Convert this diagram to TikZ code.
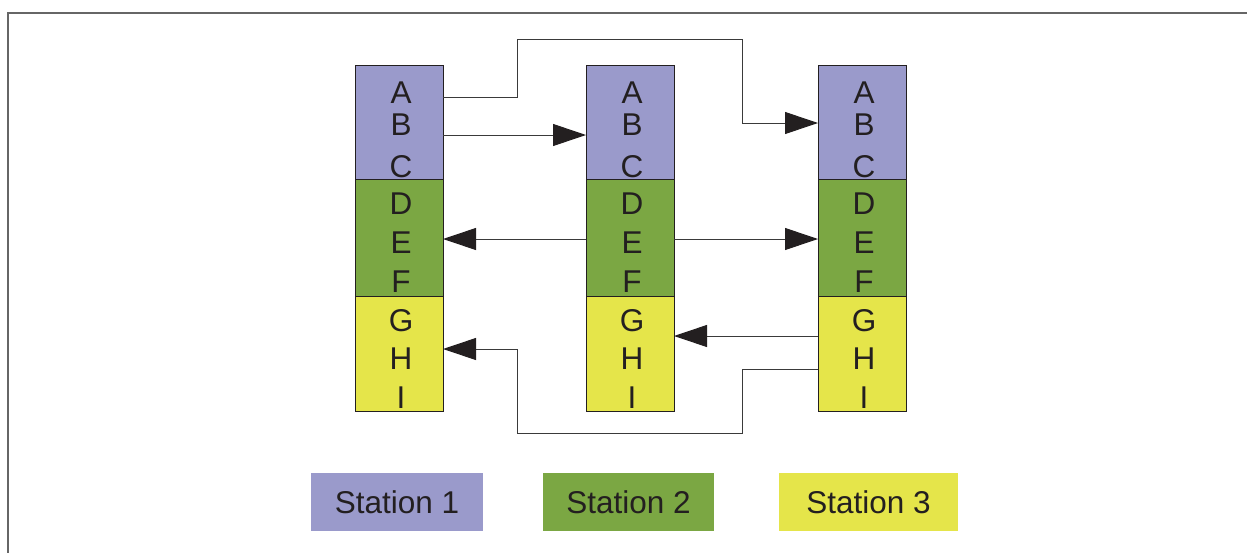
\documentclass[tikz,border=0pt]{standalone}
\usepackage{fontspec}
\setmainfont{Liberation Sans}
\usetikzlibrary{arrows.meta}
\definecolor{sblue}{HTML}{9A9ACB}
\definecolor{sgreen}{HTML}{7BA743}
\definecolor{syellow}{HTML}{E5E54A}
\definecolor{ink}{HTML}{231F20}
\definecolor{lncol}{HTML}{3A3A3A}
\tikzset{
  sec/.style={draw=ink, line width=0.9pt, minimum width=88pt, inner sep=0pt, outer sep=0pt, anchor=north west},
  lt/.style={text=ink, font=\fontsize{31.5}{31.5}\selectfont, anchor=base, inner sep=0pt},
  leg/.style={text=ink, font=\fontsize{31.5}{31.5}\selectfont, inner sep=0pt, minimum height=58pt},
  arr/.style={draw=lncol, line width=1pt, -{Triangle[length=33pt,width=22pt,color=ink]}},
  frame/.style={draw=gray!80!black, line width=1.4pt}
}
\begin{document}
\begin{tikzpicture}[x=1pt,y=-1pt]
\useasboundingbox (0,0) rectangle (1247,552);
\draw[frame] (8,13) rectangle (1262,572);
\foreach \cx/\c in {355/1,586/2,818/3}{
  \node[sec, fill=sblue, minimum height=114pt] (c\c-a) at (\cx,65) {};
  \node[sec, fill=sgreen, minimum height=117pt] (c\c-b) at (\cx,179) {};
  \node[sec, fill=syellow, minimum height=115pt] (c\c-c) at (\cx,296) {};
  \foreach \L/\y in {A/103,B/135,C/177,D/214,E/253,F/292,G/331,H/369,I/408}{
    \node[lt] (l\c\L) at (\cx+46,\y) {\L};
  }
}
\coordinate (r1) at (517,39);
\coordinate (r2) at (742,39);
\coordinate (r3) at (742,433);
\coordinate (r4) at (517,433);
\draw[arr] (c1-a.east |- 0,97) -| (r1) -- (r2) |- (c3-a.west |- 0,123);
\draw[arr] (c1-a.east |- 0,135) -- (c2-a.west |- 0,135);
\draw[arr] (c2-b.west |- 0,239) -- (c1-b.east |- 0,239);
\draw[arr] (c2-b.east |- 0,239) -- (c3-b.west |- 0,239);
\draw[arr] (c3-c.west |- 0,336) -- (c2-c.east |- 0,336);
\draw[arr] (c3-c.west |- 0,369) -| (r3) -- (r4) |- (c1-c.east |- 0,349);
\node[leg, fill=sblue, minimum width=172pt] (s1) at (397,502) {Station 1};
\node[leg, fill=sgreen, minimum width=171pt] (s2) at (628.5,502) {Station 2};
\node[leg, fill=syellow, minimum width=179pt] (s3) at (868.5,502) {Station 3};
\end{tikzpicture}
\end{document}
